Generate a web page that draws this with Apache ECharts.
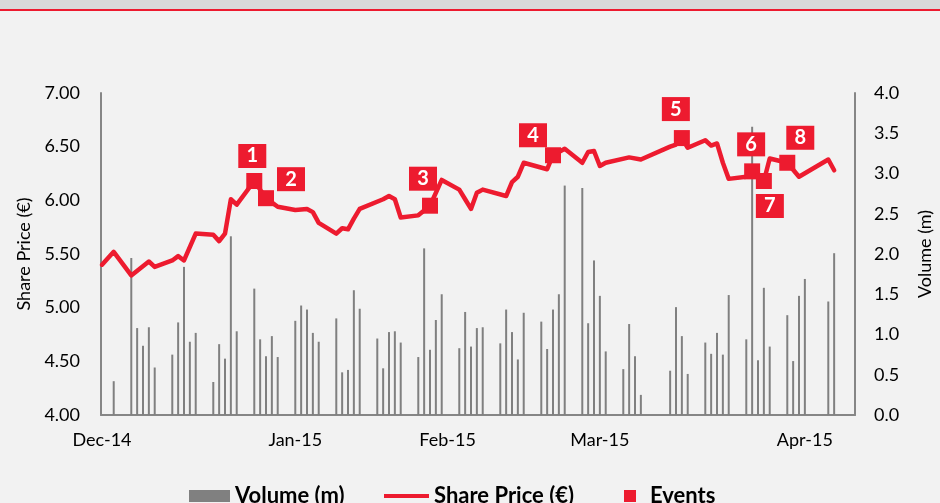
<!DOCTYPE html>
<html>
<head>
<meta charset="utf-8">
<script src="https://cdn.jsdelivr.net/npm/echarts@6.0.0/dist/echarts.min.js"></script>
<style>
  html, body { margin: 0; padding: 0; background: #f2f2f2; }
  #chart { width: 940px; height: 503px; }
</style>
</head>
<body>
<div id="chart"></div>
<script>
// daily volume (m), trading days only
const volumeDates = [
  "2014-12-05",
  "2014-12-08", "2014-12-09", "2014-12-10", "2014-12-11", "2014-12-12",
  "2014-12-15", "2014-12-16", "2014-12-17", "2014-12-18", "2014-12-19",
  "2014-12-22", "2014-12-23", "2014-12-24", "2014-12-25", "2014-12-26",
  "2014-12-29", "2014-12-30", "2014-12-31", "2015-01-01", "2015-01-02",
  "2015-01-05", "2015-01-06", "2015-01-07", "2015-01-08", "2015-01-09",
  "2015-01-12", "2015-01-13", "2015-01-14", "2015-01-15", "2015-01-16",
  "2015-01-19", "2015-01-20", "2015-01-21", "2015-01-22", "2015-01-23",
  "2015-01-26", "2015-01-27", "2015-01-28", "2015-01-29", "2015-01-30",
  "2015-02-02", "2015-02-03", "2015-02-04", "2015-02-05", "2015-02-06",
  "2015-02-09", "2015-02-10", "2015-02-11", "2015-02-12", "2015-02-13",
  "2015-02-16", "2015-02-17", "2015-02-18", "2015-02-19", "2015-02-20",
  "2015-02-23", "2015-02-24", "2015-02-25", "2015-02-26", "2015-02-27",
  "2015-03-02", "2015-03-03", "2015-03-04", "2015-03-05",
  "2015-03-10", "2015-03-11", "2015-03-12", "2015-03-13",
  "2015-03-16", "2015-03-17", "2015-03-18", "2015-03-19", "2015-03-20",
  "2015-03-23", "2015-03-24", "2015-03-25", "2015-03-26", "2015-03-27",
  "2015-03-30", "2015-03-31", "2015-04-01", "2015-04-02",
  "2015-04-06", "2015-04-07"
];
const volumeValues = [
  0.42,
  1.95, 1.08, 0.86, 1.09, 0.59,
  0.75, 1.15, 1.84, 0.91, 1.02,
  0.41, 0.88, 0.70, 2.22, 1.04,
  1.57, 0.94, 0.73, 0.98, 0.72,
  1.17, 1.36, 1.31, 1.02, 0.91,
  1.20, 0.53, 0.56, 1.55, 1.32,
  0.95, 0.58, 1.03, 1.04, 0.90,
  0.72, 2.07, 0.81, 1.18, 1.50,
  0.83, 1.28, 0.85, 1.08, 1.09,
  0.89, 1.31, 1.03, 0.69, 1.27,
  1.16, 0.82, 1.31, 1.50, 2.85,
  2.82, 1.14, 1.92, 1.48, 0.79,
  0.57, 1.13, 0.73, 0.25,
  0.55, 1.34, 0.98, 0.51,
  0.90, 0.76, 1.02, 0.75, 1.49,
  0.94, 3.58, 0.68, 1.58, 0.85,
  1.24, 0.67, 1.48, 1.69,
  1.41, 2.01
];

// share price (€), read at the turning points of the line
const priceDates = [
  "2014-12-03", "2014-12-05", "2014-12-08", "2014-12-11", "2014-12-12",
  "2014-12-15", "2014-12-16", "2014-12-17", "2014-12-19", "2014-12-22",
  "2014-12-23", "2014-12-24", "2014-12-25", "2014-12-26", "2014-12-29",
  "2014-12-31", "2015-01-02", "2015-01-05", "2015-01-07", "2015-01-08",
  "2015-01-09", "2015-01-12", "2015-01-13", "2015-01-14", "2015-01-15",
  "2015-01-16", "2015-01-20", "2015-01-21", "2015-01-22", "2015-01-23",
  "2015-01-26", "2015-01-28", "2015-01-30", "2015-02-02", "2015-02-03",
  "2015-02-04", "2015-02-05", "2015-02-06", "2015-02-10", "2015-02-11",
  "2015-02-12", "2015-02-13", "2015-02-17", "2015-02-18", "2015-02-20",
  "2015-02-23", "2015-02-24", "2015-02-25", "2015-02-26", "2015-02-27",
  "2015-03-03", "2015-03-05", "2015-03-10", "2015-03-11", "2015-03-12",
  "2015-03-13", "2015-03-16", "2015-03-17", "2015-03-18", "2015-03-19",
  "2015-03-20", "2015-03-23", "2015-03-24", "2015-03-26", "2015-03-27",
  "2015-03-30", "2015-04-01", "2015-04-06", "2015-04-07"
];
const priceValues = [
  5.40, 5.52, 5.30, 5.43, 5.38,
  5.44, 5.48, 5.44, 5.69, 5.68,
  5.62, 5.69, 6.01, 5.96, 6.18,
  6.02, 5.94, 5.91, 5.92, 5.89,
  5.79, 5.69, 5.74, 5.73, 5.83,
  5.92, 6.01, 6.04, 6.01, 5.84,
  5.86, 5.95, 6.19, 6.10, 6.01,
  5.92, 6.07, 6.10, 6.04, 6.17,
  6.22, 6.35, 6.29, 6.42, 6.48,
  6.35, 6.45, 6.46, 6.32, 6.35,
  6.40, 6.38, 6.50, 6.52, 6.58,
  6.49, 6.56, 6.51, 6.53, 6.35,
  6.20, 6.22, 6.27, 6.18, 6.39,
  6.35, 6.22, 6.38, 6.28
];

// events
const eventNames = ["1", "2", "3", "4", "5", "6", "7", "8"];
const eventDates = [
  "2014-12-29", "2014-12-31", "2015-01-28", "2015-02-18",
  "2015-03-12", "2015-03-24", "2015-03-26", "2015-03-30"
];
const eventPrices = [6.18, 6.02, 5.95, 6.42, 6.58, 6.27, 6.18, 6.35];

// x axis labels
const tickDates = ["2014-12-03", "2015-01-05", "2015-01-31", "2015-02-26", "2015-04-02"];
const tickLabels = ["Dec-14", "Jan-15", "Feb-15", "Mar-15", "Apr-15"];

// where each number box sits relative to its marker (px)
const eventLabelOffsets = [
  [-2, -25], [25, -19], [-7, -27], [-20, -20],
  [-6, -29], [-1, -27], [6, 25], [13, -25]
];

const RED = "#ed1b2f";
const GREY = "#808080";
const AXIS = "#868686";
const FONT = "Lato";

// x is counted in days from 1 Dec 2014
const DAY0 = Date.UTC(2014, 11, 1);
const dayOf = (s) => Math.round((Date.parse(s + "T00:00:00Z") - DAY0) / 86400000);
const tickDays = tickDates.map(dayOf);

const legendText = { fontFamily: FONT, fontWeight: "bold", fontSize: 22, color: "#000" };

const chart = echarts.init(document.getElementById("chart"));

const option = {
  animation: false,
  backgroundColor: "#f2f2f2",
  textStyle: { fontFamily: FONT },
  graphic: [
    { type: "rect", left: 0, top: 0, shape: { width: 940, height: 9 }, style: { fill: "#d9d9d9" } },
    { type: "rect", left: 0, top: 9, shape: { width: 940, height: 2 }, style: { fill: RED } }
  ],
  grid: {
    left: 101,
    right: 85,
    top: 93,
    bottom: 88,
    containLabel: false,
    outerBoundsMode: "none"
  },
  legend: [
    {
      data: [{ name: "Volume (m)", icon: "rect" }],
      left: 184,
      top: 480,
      itemWidth: 41,
      itemHeight: 12,
      selectedMode: false,
      textStyle: legendText
    },
    {
      data: [{ name: "Share Price (€)", icon: "rect" }],
      left: 379,
      top: 480,
      itemWidth: 45,
      itemHeight: 4,
      selectedMode: false,
      textStyle: legendText
    },
    {
      data: [{ name: "Events", icon: "rect" }],
      left: 619,
      top: 480,
      itemWidth: 12,
      itemHeight: 12,
      selectedMode: false,
      textStyle: Object.assign({}, legendText, { padding: [0, 0, 0, 9] })
    }
  ],
  xAxis: {
    type: "value",
    min: 1.83,
    max: 130.56,
    axisLine: { show: true, lineStyle: { color: AXIS, width: 2 } },
    axisTick: { show: false },
    splitLine: { show: false },
    axisLabel: {
      customValues: tickDays,
      formatter: (v) => {
        const i = tickDays.indexOf(v);
        return i >= 0 ? tickLabels[i] : "";
      },
      color: "#000",
      fontSize: 18,
      fontFamily: FONT,
      margin: 16
    }
  },
  yAxis: [
    {
      type: "value",
      min: 4,
      max: 7,
      interval: 0.5,
      name: "Share Price (€)",
      nameLocation: "middle",
      nameRotate: 90,
      nameGap: 67,
      nameTextStyle: { color: "#000", fontSize: 18, fontFamily: FONT },
      axisLine: { show: true, lineStyle: { color: AXIS, width: 2 } },
      axisTick: { show: false },
      splitLine: { show: false },
      axisLabel: {
        formatter: (v) => v.toFixed(2),
        color: "#000",
        fontSize: 18,
        fontFamily: FONT,
        margin: 21
      }
    },
    {
      type: "value",
      min: 0,
      max: 4,
      interval: 0.5,
      position: "right",
      name: "Volume (m)",
      nameLocation: "middle",
      nameRotate: 90,
      nameGap: 61,
      nameTextStyle: { color: "#000", fontSize: 18, fontFamily: FONT },
      axisLine: { show: true, lineStyle: { color: AXIS, width: 2 } },
      axisTick: { show: false },
      splitLine: { show: false },
      axisLabel: {
        formatter: (v) => v.toFixed(1),
        color: "#000",
        fontSize: 18,
        fontFamily: FONT,
        margin: 19
      }
    }
  ],
  series: [
    {
      name: "Volume (m)",
      type: "bar",
      yAxisIndex: 1,
      barWidth: 2,
      itemStyle: { color: GREY },
      emphasis: { disabled: true },
      data: volumeDates.map((d, i) => [dayOf(d), volumeValues[i]]),
      z: 1
    },
    {
      name: "Share Price (€)",
      type: "line",
      yAxisIndex: 0,
      symbol: "none",
      showSymbol: false,
      lineStyle: { color: RED, width: 4.5, join: "round", cap: "round" },
      itemStyle: { color: RED },
      emphasis: { disabled: true },
      data: priceDates.map((d, i) => [dayOf(d), priceValues[i]]),
      z: 3
    },
    {
      name: "Events",
      type: "scatter",
      yAxisIndex: 0,
      symbol: "rect",
      symbolSize: 16,
      itemStyle: { color: RED, opacity: 1 },
      emphasis: { disabled: true },
      label: {
        show: true,
        position: "inside",
        formatter: (p) => eventNames[p.dataIndex],
        color: "#fff",
        fontWeight: "bold",
        fontSize: 20,
        fontFamily: FONT,
        backgroundColor: RED,
        width: 28,
        height: 24,
        lineHeight: 24,
        align: "center",
        verticalAlign: "middle"
      },
      data: eventDates.map((d, i) => ({
        value: [dayOf(d), eventPrices[i]],
        label: { offset: eventLabelOffsets[i] }
      })),
      z: 4
    }
  ]
};

chart.setOption(option);
</script>
</body>
</html>
